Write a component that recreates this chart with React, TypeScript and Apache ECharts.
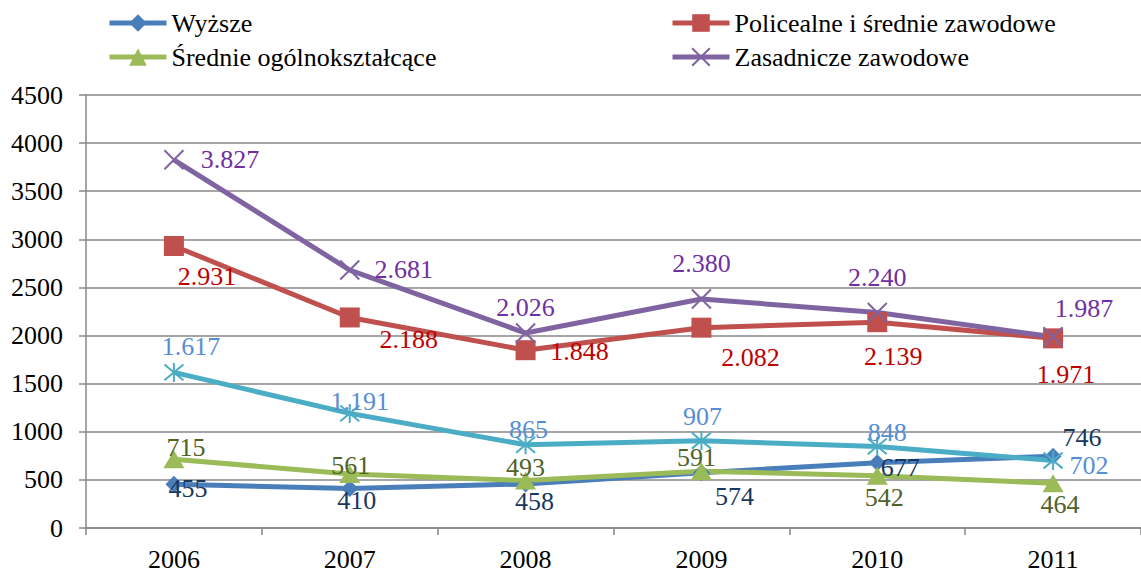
import React, { useEffect, useRef } from "react";
import * as echarts from "echarts";

const years = ["2006", "2007", "2008", "2009", "2010", "2011"];
const wyzsze = [455, 410, 458, 574, 677, 746];
const policealne = [2931, 2188, 1848, 2082, 2139, 1971];
const srednieOgolne = [715, 561, 493, 591, 542, 464];
const zasadnicze = [3827, 2681, 2026, 2380, 2240, 1987];
const gimnazjalne = [1617, 1191, 865, 907, 848, 702];

// label offsets (pixels, relative to point)
const offWyzsze = [[14, 4], [7, 12], [9, 18], [33, 24], [23, 5], [29, -19]];
const offPolic = [[33, 31], [59, 22], [54, 1], [49, 30], [16, 34], [13, 36]];
const offSred = [[12, -12], [1, -9], [0, -13], [-5, -14], [7, 22], [7, 21]];
const offZas = [[56, 0], [54, -1], [0, -26], [0, -35], [0, -35], [31, -28]];
const offGim = [[17, -26], [10, -12], [3, -15], [1, -24], [10, -14], [36, 5]];

const FONT = "Liberation Serif";
const FS = 26;

const fmt = (v: number) =>
  v >= 1000 ? `${Math.floor(v / 1000)}.${String(v % 1000).padStart(3, "0")}` : String(v);

function mkData(vals: number[], offs: number[][], color: string) {
  return vals.map((v, i) => ({
    value: v,
    label: { offset: offs[i], fontFamily: FONT, fontSize: FS, color },
  }));
}

export default function App() {
  const ref = useRef<HTMLDivElement>(null);
  useEffect(() => {
    if (!ref.current) return;
    const chart = echarts.init(ref.current, null, { renderer: "svg" });
    const labelBase = (color: string) => ({
      show: true,
      position: "inside",
      align: "center",
      verticalAlign: "middle",
      color,
      fontSize: FS,
      fontFamily: FONT,
      formatter: (p: any) => fmt(p.value),
    });
    const legendCommon = {
      top: 10,
      orient: "vertical",
      padding: 0,
      itemWidth: 57,
      itemHeight: 22,
      itemGap: 8,
      lineStyle: { width: 5 },
      textStyle: { fontSize: FS, fontFamily: FONT, color: "#000" },
    };
    chart.setOption({
      animation: false,
      textStyle: { fontFamily: FONT },
      grid: { left: 86, right: -7, top: 95, bottom: 46, containLabel: false },
      legend: [
        { ...legendCommon, left: 107, data: ["Wyższe", "Średnie ogólnokształcące"] },
        { ...legendCommon, left: 670, data: ["Policealne i średnie zawodowe", "Zasadnicze zawodowe"] },
      ],
      xAxis: {
        type: "category",
        data: years,
        boundaryGap: true,
        axisLine: { lineStyle: { color: "#878787", width: 1.5 } },
        axisTick: { show: true, length: 7, lineStyle: { color: "#878787", width: 1.5 } },
        axisLabel: { color: "#000", fontSize: FS, fontFamily: FONT, margin: 18 },
      },
      yAxis: {
        type: "value",
        min: 0,
        max: 4500,
        interval: 500,
        axisLine: { show: true, lineStyle: { color: "#878787", width: 1.5 } },
        axisTick: { show: true, length: 7, lineStyle: { color: "#878787", width: 1.5 } },
        splitLine: { lineStyle: { color: "#878787", width: 1.5 } },
        axisLabel: {
          color: "#000",
          fontSize: FS,
          fontFamily: FONT,
          margin: 23,
          formatter: (v: number) => String(v),
        },
      },
      series: [
        {
          name: "Wyższe",
          type: "line",
          data: mkData(wyzsze, offWyzsze, "#17375E"),
          symbol: "diamond",
          symbolSize: 17,
          lineStyle: { color: "#4A7EBB", width: 5 },
          itemStyle: { color: "#4A7EBB", borderWidth: 0 },
          label: labelBase("#17375E"),
        },
        {
          name: "Policealne i średnie zawodowe",
          type: "line",
          data: mkData(policealne, offPolic, "#C00000"),
          symbol: "rect",
          symbolSize: 20,
          lineStyle: { color: "#C0504D", width: 5 },
          itemStyle: { color: "#C0504D", borderWidth: 0 },
          label: labelBase("#C00000"),
        },
        {
          name: "Średnie ogólnokształcące",
          type: "line",
          data: mkData(srednieOgolne, offSred, "#4F6228"),
          symbol: "triangle",
          symbolSize: [21, 18],
          lineStyle: { color: "#9BBB59", width: 5 },
          itemStyle: { color: "#9BBB59", borderWidth: 0 },
          label: labelBase("#4F6228"),
        },
        {
          name: "Zasadnicze zawodowe",
          type: "line",
          data: mkData(zasadnicze, offZas, "#7030A0"),
          symbol: "path://M0,0L20,20M20,0L0,20",
          symbolSize: 19,
          lineStyle: { color: "#8064A2", width: 5 },
          itemStyle: { color: "#8064A2", borderColor: "#8064A2", borderWidth: 2 },
          label: labelBase("#7030A0"),
        },
        {
          name: "Gimnazjalne i poniżej",
          type: "line",
          data: mkData(gimnazjalne, offGim, "#558ED5"),
          symbol: "path://M0,0L20,20M20,0L0,20M10,-2L10,22",
          symbolSize: 19,
          lineStyle: { color: "#4BACC6", width: 5 },
          itemStyle: { color: "#4BACC6", borderColor: "#4BACC6", borderWidth: 2 },
          label: labelBase("#558ED5"),
        },
      ],
    });
    return () => chart.dispose();
  }, []);
  return (
    <div
      ref={ref}
      style={{ position: "fixed", left: 0, top: 0, width: 1141, height: 574, background: "#fff" }}
    />
  );
}
